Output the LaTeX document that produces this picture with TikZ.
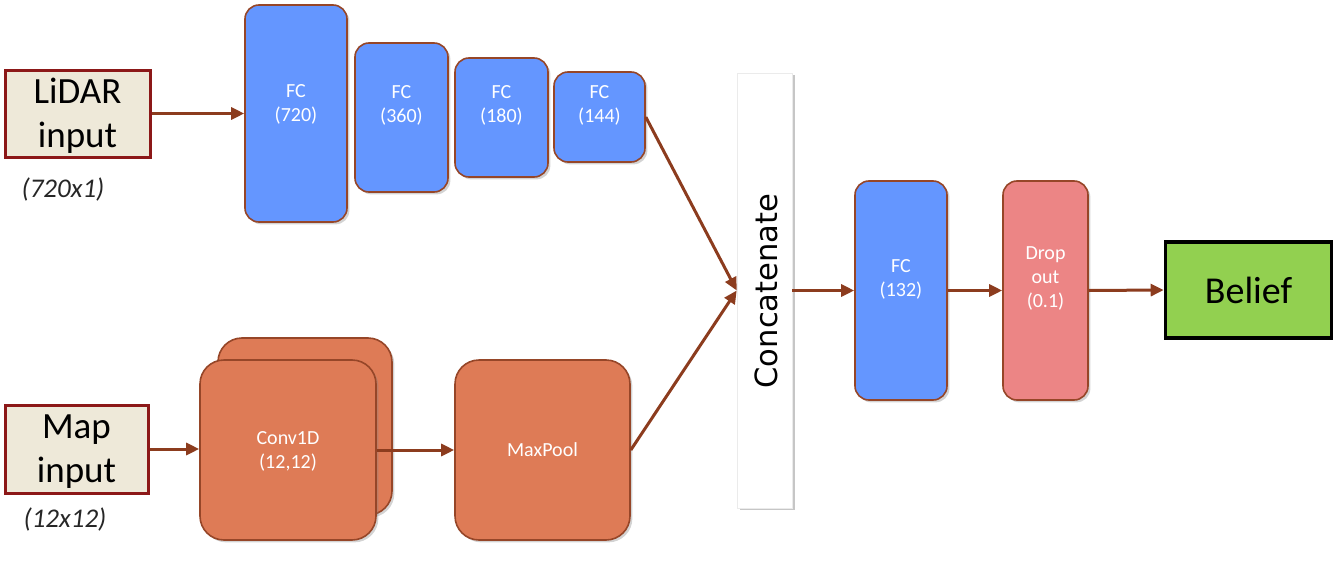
\documentclass[tikz,border=0pt]{standalone}
\usepackage{fontspec}
\setmainfont{Carlito}
\newfontfamily\concatfont{DejaVu Sans}
\usetikzlibrary{shadows,arrows.meta}
\definecolor{fcblue}{RGB}{100,150,255}
\definecolor{boxline}{RGB}{150,70,40}
\definecolor{convor}{RGB}{222,123,86}
\definecolor{droppink}{RGB}{236,133,133}
\definecolor{inbeige}{RGB}{238,233,217}
\definecolor{inred}{RGB}{140,24,24}
\definecolor{beliefgreen}{RGB}{146,208,80}
\definecolor{arrowcol}{RGB}{140,60,30}
\tikzset{
  layerbox/.style={draw=boxline, line width=0.8pt, rounded corners=7pt, inner sep=0pt,
     drop shadow={shadow xshift=1.2pt, shadow yshift=-1.2pt, opacity=0.35}},
  fcbox/.style={layerbox, fill=fcblue},
  convbox/.style={layerbox, fill=convor, rounded corners=12pt},
  dropbox/.style={layerbox, fill=droppink},
  lbl/.style={text=white, font=\fontsize{10}{12}\selectfont, align=center, inner sep=0pt},
  inbox/.style={draw=inred, fill=inbeige, line width=1.5pt, inner sep=0pt},
  intext/.style={align=center, inner sep=0pt, font=\fontsize{18.5}{22}\selectfont},
  dimlbl/.style={font=\fontsize{13.5}{16}\selectfont\itshape, text=black!85, inner sep=0pt},
  conn/.style={draw=arrowcol, line width=1.5pt, -{Triangle[length=6.5pt,width=6pt]}},
}
\begin{document}
\begin{tikzpicture}[x=0.5pt,y=-0.5pt]
\useasboundingbox (0,0) rectangle (1334,578);
% inputs
\node[inbox, minimum width=72.5pt, minimum height=43.5pt] (lidar) at (77.5,113.5) {};
\node[intext] (lidart) at (77.5,116) {LiDAR\\input};
\node[dimlbl] (lidardim) at (63,189) {(720x1)};
\node[inbox, minimum width=71.5pt, minimum height=44pt] (map) at (76.5,449) {};
\node[intext] (mapt) at (76.5,451.5) {Map\\input};
\node[dimlbl] (mapdim) at (65,519) {(12x12)};
% FC stack
\node[fcbox, minimum width=51pt, minimum height=108.5pt] (fc1) at (296,113.5) {};
\node[fcbox, minimum width=46.5pt, minimum height=74.5pt] (fc2) at (401.5,117.5) {};
\node[fcbox, minimum width=46.5pt, minimum height=59.5pt] (fc3) at (501.5,117.5) {};
\node[fcbox, minimum width=45.5pt, minimum height=45pt] (fc4) at (599.5,117) {};
\node[lbl] (fc1t) at (296,104) {FC\\(720)};
\node[lbl] (fc2t) at (401.5,105) {FC\\(360)};
\node[lbl] (fc3t) at (501.5,105) {FC\\(180)};
\node[lbl] (fc4t) at (599.5,105) {FC\\(144)};
% conv
\node[convbox, minimum width=87pt, minimum height=88.5pt] (convback) at (305,426.5) {};
\node[convbox, minimum width=88pt, minimum height=90pt] (conv) at (288,450) {};
\node[lbl] (convt) at (288,451) {Conv1D\\(12,12)};
\node[convbox, minimum width=87.5pt, minimum height=90pt] (pool) at (542.5,450) {};
\node[lbl] (poolt) at (542.5,450) {MaxPool};
% concatenate
\node[fill=white, draw=black!8, line width=0.3pt, inner sep=0pt, minimum width=27.5pt, minimum height=217.5pt,
      drop shadow={shadow xshift=1.5pt, shadow yshift=-1pt, opacity=0.45}] (concat) at (764.5,290.5) {};
\node[rotate=90, font=\concatfont\fontsize{15.3}{18}\selectfont, inner sep=0pt] (concatt) at (766,291) {Concatenate};
% head
\node[fcbox, minimum width=46pt, minimum height=109.5pt] (fc5) at (901,290.5) {};
\node[lbl] (fc5t) at (901,279.5) {FC\\(132)};
\node[dropbox, minimum width=42.5pt, minimum height=109.5pt] (drop) at (1045.5,290.5) {};
\node[lbl] (dropt) at (1045.5,278) {Drop\\out\\(0.1)};
\node[draw=black, fill=beliefgreen, line width=1.8pt, inner sep=0pt, minimum width=83pt, minimum height=48pt,
      font=\fontsize{19}{22}\selectfont] (belief) at (1248.5,290) {Belief};
% connectors
\draw[conn] (lidar.east) -- (fc1.west |- lidar.east);
\draw[conn] (map.east) -- (conv.west |- map.east);
\draw[conn] (conv.east) -- (pool.west);
\draw[conn] (fc4.east) -- (concat.west);
\draw[conn] (pool.east) -- (concat.west);
\draw[conn] (concat.east) -- (fc5.west);
\draw[conn] (fc5.east) -- (drop.west);
\draw[conn] (drop.east) -- (belief.west);
\end{tikzpicture}
\end{document}
